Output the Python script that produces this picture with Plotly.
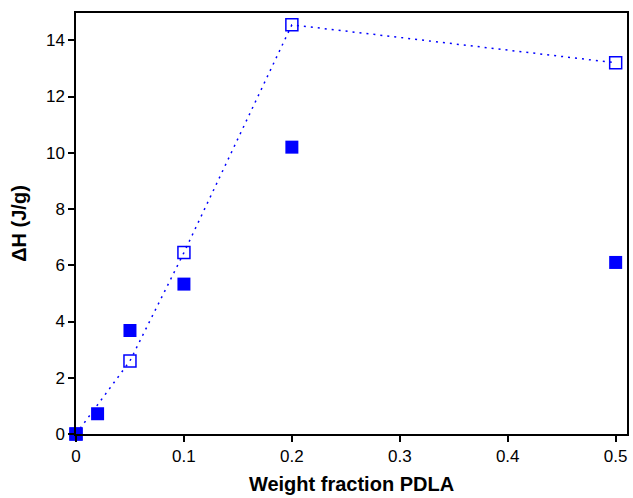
import plotly.graph_objects as go

# Data
x_open = [0, 0.05, 0.1, 0.2, 0.5]
y_open = [0, 2.6, 6.45, 14.55, 13.2]
x_filled = [0, 0.02, 0.05, 0.1, 0.2, 0.5]
y_filled = [0, 0.72, 3.68, 5.33, 10.2, 6.1]
x_ticks = [0, 0.1, 0.2, 0.3, 0.4, 0.5]
x_ticklabels = ["0", "0.1", "0.2", "0.3", "0.4", "0.5"]
y_ticks = [0, 2, 4, 6, 8, 10, 12, 14]

BLUE = "#0000FF"

fig = go.Figure()
fig.add_trace(go.Scatter(
    x=x_open, y=y_open, mode="lines+markers",
    line=dict(color=BLUE, width=1.5, dash="2px,5px"),
    marker=dict(symbol="square-open", size=12, color=BLUE, line=dict(width=1.5, color=BLUE)),
    cliponaxis=False, showlegend=False,
))
fig.add_trace(go.Scatter(
    x=x_filled, y=y_filled, mode="markers",
    marker=dict(symbol="square", size=13, color=BLUE, line=dict(width=0)),
    cliponaxis=False, showlegend=False,
))

fig.update_layout(
    width=633, height=498,
    margin=dict(l=76, r=4, t=13, b=64),
    plot_bgcolor="white", paper_bgcolor="white",
    font=dict(family="Liberation Sans, Arial, sans-serif", size=17, color="black"),
    xaxis=dict(
        range=[0, 0.5105], tickvals=x_ticks, ticktext=x_ticklabels,
        showline=True, linecolor="black", linewidth=1.5, mirror=True,
        ticks="outside", ticklen=6, tickwidth=1.5, tickcolor="black",
        showgrid=False, zeroline=False, tickfont=dict(size=17),
        title=dict(text="<b>Weight fraction PDLA</b>", font=dict(size=20), standoff=12),
    ),
    yaxis=dict(
        range=[0, 14.97], tickvals=y_ticks,
        showline=True, linecolor="black", linewidth=1.5, mirror=True,
        ticks="outside", ticklen=6, tickwidth=1.5, tickcolor="black",
        showgrid=False, zeroline=False, tickfont=dict(size=17),
        title=dict(text="<b>ΔH (J/g)</b>", font=dict(size=20), standoff=14),
    ),
)

fig.write_html("out.html")
